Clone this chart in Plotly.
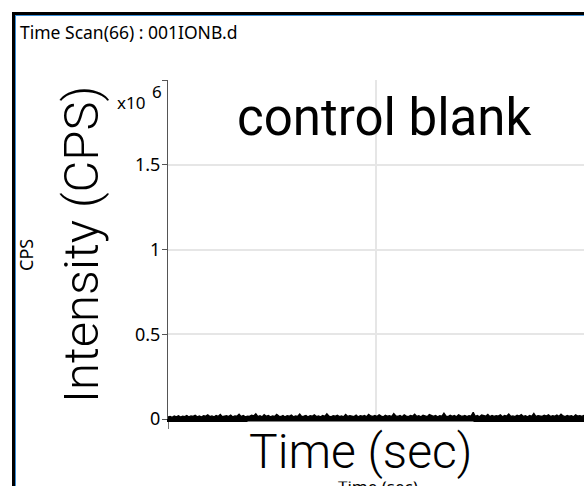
import numpy as np
import plotly.graph_objects as go

# ---- data ----
cps_k = [
    12, 15, 10, 17, 13, 19, 11, 16, 14, 20, 12, 18, 15, 22, 13, 17, 11, 19, 16, 24,
    14, 18, 12, 21, 15, 26, 13, 17, 19, 14, 23, 12, 18, 16, 28, 14, 20, 13, 17, 15,
    22, 18, 30, 14, 19, 12, 25, 16, 21, 13, 18, 15, 27, 17, 14, 20, 12, 19, 16, 23,
    13, 18, 15, 29, 14, 17, 21, 12, 19, 16, 24, 14, 18, 13, 20, 15, 31, 17, 12, 19,
    16, 22, 14, 18, 13, 26, 15, 20, 17, 14, 23, 12, 19, 16, 21, 13, 27, 18, 15, 20,
    14, 25, 17, 13, 22, 16, 19, 14, 32, 18, 15, 21, 13, 24, 17, 14, 20, 16, 28, 15,
    19, 13, 22, 17, 14, 26, 18, 15, 21, 13, 19, 16, 34, 17, 14, 22, 15, 20, 13, 25,
    18, 16, 21, 14, 19, 17, 40, 15, 20, 13, 23, 18, 16, 27, 14, 21, 15, 19, 17, 24,
    13, 20, 16, 29, 15, 18, 14, 22, 17, 26, 15, 19, 13, 21, 16, 33, 14, 20, 18, 15,
    22, 17, 25, 14, 19, 16, 23, 15, 28, 18, 14, 21, 16, 19, 13, 24, 17, 20, 15, 22,
]
cps = [v * 1000 for v in cps_k]
time_sec = np.linspace(0, 100, len(cps))

y_tickvals = [0, 500000, 1000000, 1500000, 2000000]
y_ticktext = ["0", "0.5", "1", "1.5", ""]
x_tickvals = [0, 50, 100]

W, H = 584, 486
ML, MR, MT, MB = 168, 0, 80, 67
PW, PH = W - ML - MR, H - MT - MB


def px(x):
    return (x - ML) / PW


def py(y):
    return (H - MB - y) / PH


fig = go.Figure()
fig.add_trace(go.Scatter(
    x=time_sec, y=cps, mode="lines", fill="tozeroy",
    line=dict(color="black", width=1.4), fillcolor="black",
    hoverinfo="skip", showlegend=False,
))

shapes = [
    # window frame
    dict(type="line", xref="paper", yref="paper", x0=px(13.5), x1=px(13.5), y0=py(12), y1=py(490),
         line=dict(color="black", width=3)),
    dict(type="line", xref="paper", yref="paper", x0=px(15.5), x1=px(15.5), y0=py(15), y1=py(490),
         line=dict(color="#3a8fd8", width=1)),
    dict(type="line", xref="paper", yref="paper", x0=px(12), x1=px(590), y0=py(13.5), y1=py(13.5),
         line=dict(color="black", width=3)),
    dict(type="line", xref="paper", yref="paper", x0=px(15), x1=px(590), y0=py(15.5), y1=py(15.5),
         line=dict(color="#3a8fd8", width=1)),
]

annotations = [
    dict(text="Time Scan(66) : 001IONB.d", x=px(18), y=py(32), xref="paper", yref="paper",
         xanchor="left", yanchor="middle", showarrow=False,
         font=dict(family="Noto Sans", size=17.5, color="black")),
    dict(text="x10", x=px(147), y=py(103), xref="paper", yref="paper",
         xanchor="right", yanchor="middle", showarrow=False,
         font=dict(family="Noto Sans", size=17, color="black")),
    dict(text="6", x=px(157), y=py(91), xref="paper", yref="paper",
         xanchor="center", yanchor="middle", showarrow=False,
         font=dict(family="Noto Sans", size=17, color="black")),
    dict(text="CPS", x=px(26), y=py(255), xref="paper", yref="paper", textangle=-90,
         xanchor="center", yanchor="middle", showarrow=False,
         font=dict(family="Noto Sans", size=18, color="black")),
    dict(text="Time (sec)", x=px(378), y=py(486), xref="paper", yref="paper",
         xanchor="center", yanchor="middle", showarrow=False,
         font=dict(family="Noto Sans", size=17, color="black")),
    dict(text="control blank", x=px(384), y=py(117), xref="paper", yref="paper",
         xanchor="center", yanchor="middle", showarrow=False,
         font=dict(family="Roboto", size=51, color="black")),
    dict(text="Intensity (CPS)", x=px(81), y=py(244), xref="paper", yref="paper", textangle=-90,
         xanchor="center", yanchor="middle", showarrow=False,
         font=dict(family="Roboto", size=49, color="black", weight=300)),
    dict(text="Time (sec)", x=px(360), y=py(451), xref="paper", yref="paper",
         xanchor="center", yanchor="middle", showarrow=False, bgcolor="white",
         font=dict(family="Roboto", size=48, color="black", weight=300)),
]

fig.update_layout(
    width=W, height=H,
    margin=dict(l=ML, r=MR, t=MT, b=MB, pad=0),
    paper_bgcolor="white", plot_bgcolor="white",
    shapes=shapes, annotations=annotations,
    xaxis=dict(range=[0, 100], tickvals=x_tickvals, showticklabels=False,
               showgrid=True, gridcolor="#e6e6e6", gridwidth=1.5,
               ticks="outside", ticklen=7, tickcolor="#777", zeroline=False,
               showline=True, linecolor="black", linewidth=2.5),
    yaxis=dict(range=[0, 2000000], tickvals=y_tickvals, ticktext=y_ticktext,
               showgrid=True, gridcolor="#e6e6e6", gridwidth=1.5,
               ticks="outside", ticklen=5, tickcolor="#555", zeroline=False,
               showline=True, linecolor="#555", linewidth=1,
               ticklabelstandoff=-2,
               tickfont=dict(family="Noto Sans", size=18, color="black")),
)

fig.write_html("out.html")
